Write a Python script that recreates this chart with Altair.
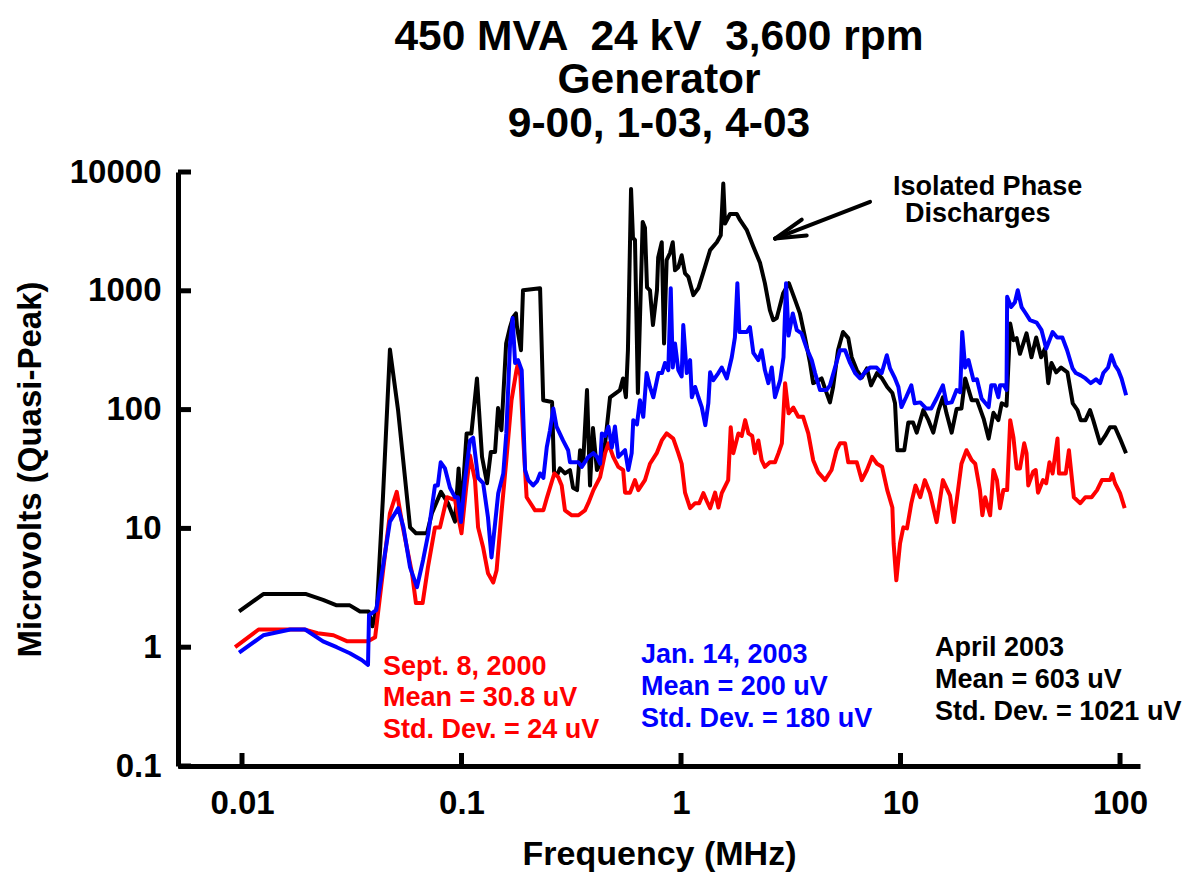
import altair as alt
import pandas as pd

FONT = "Liberation Sans"

# ---------------- data (frequency in MHz, amplitude in microvolts) ----------------
black_f = [0.0097, 0.0125, 0.0196, 0.0234, 0.0270, 0.0310, 0.0345, 0.0378, 0.0393, 0.0412,
           0.0438, 0.0472, 0.0514, 0.0583, 0.0620, 0.0696, 0.0733, 0.0806, 0.0868, 0.0934,
           0.0970, 0.0998, 0.1055, 0.1109, 0.1176, 0.1240, 0.1307, 0.136, 0.1422, 0.1467,
           0.152, 0.1597, 0.1664, 0.1718, 0.1770, 0.179, 0.1866, 0.1906, 0.228, 0.2356,
           0.2585, 0.264, 0.2723, 0.281, 0.296, 0.312, 0.3222, 0.336, 0.347, 0.358,
           0.373, 0.385, 0.397, 0.414, 0.428, 0.451, 0.475, 0.527, 0.544, 0.561,
           0.573, 0.592, 0.604, 0.617, 0.636, 0.669, 0.685, 0.700, 0.722, 0.745,
           0.777, 0.787, 0.817, 0.837, 0.860, 0.891, 0.917, 0.939, 0.972, 1.007,
           1.043, 1.08, 1.138, 1.199, 1.264, 1.357, 1.456, 1.517, 1.558, 1.587,
           1.672, 1.795, 1.859, 1.995, 2.136, 2.29, 2.41, 2.54, 2.63, 2.73,
           2.92, 3.10, 3.31, 3.48, 3.67, 3.87, 4.0, 4.37, 4.53, 4.77,
           4.93, 5.19, 5.47, 5.78, 5.99, 6.32, 6.66, 7.03, 7.34, 7.81,
           8.24, 8.70, 9.18, 9.44, 9.67, 10.4, 10.85, 11.4, 11.85, 12.7,
           13.4, 14.1, 14.9, 15.6, 16.2, 17.1, 18.0, 18.95, 19.7, 21.1,
           22.3, 23.9, 25.2, 26.5, 27.9, 28.9, 30.4, 30.6, 31.6, 32.7,
           33.8, 35.0, 37.5, 39.5, 41.5, 43.7, 45.5, 47.1, 48.7, 51.2,
           53.9, 57.6, 60.9, 64.0, 66.2, 69.6, 73.0, 75.5, 81.1, 85.5,
           90.0, 94.9, 100, 106.5]
black_v = [2.0, 2.8, 2.8, 2.5, 2.25, 2.25, 2.0, 2.0, 1.5, 2.2,
           17.3, 320, 99, 10.2, 9.1, 9.1, 13.4, 20.3, 16.3, 11.4,
           32, 13.4, 63, 63, 183, 40, 24, 44, 44, 103,
           67, 360, 495, 600, 645, 495, 316, 1010, 1050, 120,
           116, 30, 28, 32, 29, 31, 22, 21, 45.5, 35,
           146, 23, 70, 31, 35, 52, 127, 146, 183, 127,
           316, 7200, 2800, 2670, 138, 3800, 3400, 1070, 1010, 515,
           1010, 1910, 2560, 360, 1810, 2080, 2560, 1490, 1580, 1990,
           1400, 1310, 920, 1050, 1430, 2200, 2560, 2930, 8000, 3680,
           4430, 4430, 3930, 3240, 2350, 1720, 1160, 687, 566, 590,
           955, 1160, 834, 645, 405, 247, 167, 183, 150, 115,
           155, 316, 450, 400, 276, 215, 186, 222, 160, 203,
           183, 155, 138, 113, 45.5, 45.5, 78, 78, 64, 99,
           81.5, 64, 99, 127, 93, 64, 101, 102, 183, 120,
           120, 84, 57, 94, 81.5, 113, 108, 138, 530, 384,
           400, 295, 438, 276, 405, 276, 327, 167, 247, 206,
           226, 206, 113, 99, 81.5, 81.5, 99, 81.5, 52, 60,
           71, 71, 57, 43]

red_f = [0.0093, 0.0119, 0.0192, 0.0221, 0.0261, 0.0302, 0.0375, 0.0404, 0.0472, 0.0507,
         0.054, 0.0595, 0.0620, 0.0665, 0.0703, 0.0757, 0.0798, 0.0859, 0.0934, 0.100,
         0.105, 0.1093, 0.1152, 0.119, 0.1255, 0.132, 0.1395, 0.1445, 0.152, 0.160,
         0.169, 0.178, 0.181, 0.1855, 0.191, 0.198, 0.2163, 0.236, 0.2445, 0.2647,
         0.276, 0.286, 0.296, 0.318, 0.341, 0.365, 0.378, 0.399, 0.428, 0.451,
         0.467, 0.491, 0.518, 0.545, 0.556, 0.586, 0.617, 0.639, 0.685, 0.722,
         0.775, 0.817, 0.860, 0.922, 0.972, 1.007, 1.043, 1.10, 1.16, 1.21,
         1.264, 1.31, 1.357, 1.43, 1.48, 1.533, 1.64, 1.684, 1.73, 1.825,
         1.89, 1.96, 2.03, 2.11, 2.17, 2.25, 2.33, 2.41, 2.54, 2.68,
         2.78, 2.88, 2.98, 3.09, 3.25, 3.42, 3.6, 3.80, 4.0, 4.22,
         4.53, 4.85, 5.11, 5.3, 5.59, 5.78, 6.32, 6.66, 7.03, 7.42,
         7.81, 8.24, 8.70, 9.18, 9.3, 9.57, 9.95, 10.3, 10.7, 11.2,
         11.7, 12.3, 12.9, 13.6, 14.6, 15.6, 16.8, 17.5, 18.95, 19.97,
         21.1, 21.9, 23.0, 23.6, 24.3, 25.6, 26.5, 27.5, 28.4, 29.4,
         30.6, 31.6, 32.7, 33.8, 35.0, 36.6, 37.5, 38.2, 40.2, 41.3,
         42.3, 44.6, 46.1, 47.7, 49.3, 51.9, 52.7, 56.6, 58.5, 61.6,
         65.9, 69.5, 74.2, 78.6, 82.7, 90.0, 92.2, 94.9, 100, 105]
red_v = [1.0, 1.41, 1.41, 1.31, 1.26, 1.12, 1.12, 1.21, 13.4, 20.3,
         10.3, 4.2, 2.35, 2.35, 4.7, 10.2, 10.2, 18.3, 17.3, 9.1,
         22, 41, 25.5, 10.2, 6.9, 4.2, 3.5, 4.45, 13.4, 37.5,
         120, 215, 247, 190, 58, 18.3, 14.2, 14.2, 17.9, 29,
         27, 23, 14.2, 12.9, 12.9, 14.2, 16.3, 21, 27, 43,
         52, 40, 33, 31, 20, 20, 25.5, 21, 25.5, 35,
         43, 55, 63, 57, 43, 35, 20, 14.8, 16.3, 16.3,
         19.8, 17, 14.8, 20, 15, 19.8, 25.5, 71, 43, 63,
         60, 81.5, 63, 60, 43, 55, 37.5, 33, 36, 36,
         43, 52, 167, 93, 104, 87, 87, 63, 37.5, 29.6,
         25.5, 31, 45.5, 52, 52, 36, 36, 25.5, 31, 40,
         35, 33, 21, 15, 7.5, 3.66, 7.5, 10.2, 10, 16.3,
         23, 18.3, 25.5, 20, 11.3, 25.5, 19, 11.3, 35, 45.5,
         37.5, 35, 21, 12.9, 18.3, 12.9, 31, 25.5, 14.8, 21,
         21, 81.5, 58, 32, 32, 52, 43, 23, 30, 31,
         20, 25.5, 24, 36, 29, 57, 29, 29, 45.5, 18.3,
         16.3, 18.3, 18.3, 21, 25.5, 25.5, 28.7, 24, 19.8, 14.8]

blue_f = [0.0097, 0.0125, 0.0166, 0.0194, 0.0234, 0.027, 0.031, 0.0351, 0.0375, 0.0379,
          0.0409, 0.0441, 0.0472, 0.0515, 0.0544, 0.0583, 0.0627, 0.0668, 0.0706, 0.0757,
          0.078, 0.0804, 0.0841, 0.0886, 0.0934, 0.0963, 0.0994, 0.1037, 0.1093, 0.113,
          0.119, 0.1255, 0.132, 0.137, 0.1422, 0.147, 0.155, 0.160, 0.1664, 0.171,
          0.1754, 0.181, 0.188, 0.1948, 0.2015, 0.212, 0.221, 0.228, 0.236, 0.2445,
          0.253, 0.262, 0.271, 0.290, 0.306, 0.312, 0.341, 0.353, 0.378, 0.399,
          0.414, 0.428, 0.436, 0.451, 0.467, 0.484, 0.500, 0.518, 0.556, 0.575,
          0.596, 0.606, 0.630, 0.650, 0.673, 0.697, 0.722, 0.748, 0.789, 0.819,
          0.845, 0.875, 0.898, 0.917, 0.939, 0.972, 1.007, 1.024, 1.062, 1.10,
          1.12, 1.16, 1.20, 1.243, 1.29, 1.332, 1.357, 1.404, 1.479, 1.533,
          1.616, 1.703, 1.76, 1.806, 1.844, 1.995, 2.06, 2.136, 2.25, 2.33,
          2.41, 2.50, 2.59, 2.68, 2.83, 2.93, 3.01, 3.09, 3.23, 3.37,
          3.54, 3.74, 3.94, 4.08, 4.30, 4.60, 4.77, 5.03, 5.30, 5.59,
          5.89, 6.21, 6.54, 6.89, 7.26, 7.78, 8.21, 8.66, 8.96, 9.44,
          9.78, 10.1, 10.6, 11.2, 11.6, 12.3, 13.1, 13.8, 14.6, 15.6,
          16.2, 17.1, 18.0, 18.7, 19.1, 19.7, 20.4, 21.5, 22.3, 23.4,
          25.2, 25.9, 26.9, 27.9, 28.4, 29.6, 30.4, 30.6, 31.9, 33.2,
          34.2, 35.6, 36.9, 38.9, 41.7, 43.9, 46.1, 47.7, 49.3, 51.7,
          54.6, 57.4, 60.8, 62.9, 66.2, 69.6, 73.5, 77.7, 81.1, 83.9,
          88.2, 91.3, 94.9, 98.1, 101.6, 106.6]
blue_v = [0.90, 1.26, 1.41, 1.41, 1.12, 1.0, 0.89, 0.78, 0.71, 1.86,
          2.05, 5.1, 11.4, 14.8, 10.2, 4.7, 3.2, 5.4, 9.1, 23,
          23, 36, 32, 22, 18.3, 18.3, 11.3, 25.5, 55, 58,
          26.6, 24, 12.4, 5.7, 11, 19.8, 29, 63, 360, 590,
          247, 261, 215, 31, 25.5, 23, 25, 29, 26.6, 48,
          67, 102, 72, 55, 45.5, 36, 36, 33, 40, 43,
          40, 35, 63, 60, 72, 48, 72, 40, 45.5, 31,
          43, 81.5, 75, 120, 87, 203, 155, 127, 203, 203,
          247, 215, 1050, 226, 360, 215, 190, 515, 203, 261,
          127, 155, 127, 105, 74, 113, 206, 177, 203, 226,
          183, 276, 405, 1160, 450, 450, 495, 300, 261, 316,
          215, 167, 226, 127, 177, 276, 1160, 420, 645, 466,
          438, 327, 261, 203, 146, 146, 160, 226, 316, 316,
          247, 203, 183, 206, 226, 226, 203, 287, 222, 183,
          155, 105, 127, 160, 113, 115, 102, 102, 124, 160,
          113, 115, 146, 140, 450, 226, 261, 177, 180, 124,
          105, 160, 160, 127, 160, 160, 146, 890, 730, 800,
          1010, 730, 660, 566, 540, 466, 327, 384, 450, 405,
          405, 316, 222, 203, 194, 183, 167, 180, 167, 203,
          226, 287, 236, 215, 183, 132]

x_ticks = [0.01, 0.1, 1, 10, 100]
y_ticks = [0.1, 1, 10, 100, 1000, 10000]

title_lines = ["450 MVA \u00a024 kV \u00a03,600 rpm", "Generator", "9-00, 1-03, 4-03"]

ann_text = ["Sept. 8, 2000", "Mean = 30.8 uV", "Std. Dev. = 24 uV",
            "Jan. 14, 2003", "Mean = 200 uV", "Std. Dev. = 180 uV",
            "April 2003", "Mean = 603 uV", "Std. Dev. = 1021 uV",
            "Isolated Phase", "Discharges"]
ann_f = [0.0439, 0.0439, 0.0439, 0.657, 0.657, 0.657, 14.36, 14.36, 14.36, 9.25, 10.48]
ann_v = [0.683, 0.372, 0.200, 0.856, 0.4605, 0.2477, 0.981, 0.528, 0.284, 7500, 4450]
ann_color = ["#ff0000"] * 3 + ["#0000ff"] * 3 + ["#000000"] * 5
ann_size = [27] * 9 + [27, 27]

# arrow segments: shaft and two head strokes (start -> end)
arrow_f1 = [7.263, 2.682, 2.682]
arrow_v1 = [5612, 2751, 2751]
arrow_f2 = [2.682, 3.548, 3.738]
arrow_v2 = [2751, 3975, 2925]

# ---------------- chart ----------------
W, H = 962, 594
xs = alt.Scale(type="log", domain=[0.00511, 123.3])
ys = alt.Scale(type="log", domain=[0.1, 10000])


def frame(f, v):
    assert len(f) == len(v)
    return pd.DataFrame({"f": f, "v": v})


x_axis = alt.Axis(values=x_ticks, format="~g", title="Frequency (MHz)", ticks=False, tickSize=0,
                  labelPadding=21, labelFontSize=33, labelFont=FONT, labelFontWeight="bold",
                  labelColor="black", labelFlush=False, labelOverlap=False,
                  domainWidth=5, domainColor="black", grid=False,
                  titleFontSize=34, titleFont=FONT, titleFontWeight="bold", titleColor="black",
                  titleX=W / 2, titleY=88, titleAlign="center", titleBaseline="middle")
y_axis = alt.Axis(values=y_ticks, format="~g", title="Microvolts (Quasi-Peak)", ticks=False, tickSize=0,
                  labelPadding=17, labelFontSize=33, labelFont=FONT, labelFontWeight="bold",
                  labelColor="black", labelFlush=False, labelOverlap=False,
                  domainWidth=5, domainColor="black", grid=False,
                  titleFontSize=33, titleFont=FONT, titleFontWeight="bold", titleColor="black",
                  titleX=-148, titleY=H / 2, titleAngle=-90, titleAlign="center", titleBaseline="middle")


def line(f, v, color, with_axes=False):
    if with_axes:
        xe = alt.X("f:Q", scale=xs, axis=x_axis)
        ye = alt.Y("v:Q", scale=ys, axis=y_axis)
    else:
        xe = alt.X("f:Q", scale=xs)
        ye = alt.Y("v:Q", scale=ys)
    return alt.Chart(frame(f, v)).mark_line(color=color, strokeWidth=4, strokeJoin="round").encode(x=xe, y=ye)


black = line(black_f, black_v, "#000000", with_axes=True)
red = line(red_f, red_v, "#ff0000")
blue = line(blue_f, blue_v, "#0000ff")

ytick = alt.Chart(pd.DataFrame({"v": y_ticks})).mark_rule(color="black", strokeWidth=5).encode(
    y=alt.Y("v:Q", scale=ys), x=alt.value(0), x2=alt.value(13))
xtick = alt.Chart(pd.DataFrame({"f": x_ticks})).mark_rule(color="black", strokeWidth=5).encode(
    x=alt.X("f:Q", scale=xs), y=alt.value(H), y2=alt.value(H - 13))

ann_df = pd.DataFrame({"t": ann_text, "f": ann_f, "v": ann_v, "c": ann_color, "z": ann_size})
notes = alt.Chart(ann_df).mark_text(align="left", baseline="middle", font=FONT, fontWeight="bold").encode(
    x=alt.X("f:Q", scale=xs),
    y=alt.Y("v:Q", scale=ys),
    text="t:N",
    color=alt.Color("c:N", scale=None),
    size=alt.Size("z:Q", scale=None),
)

arrow_df = pd.DataFrame({"f": arrow_f1, "v": arrow_v1, "f2": arrow_f2, "v2": arrow_v2})
arrow = alt.Chart(arrow_df).mark_rule(color="black", strokeWidth=4, strokeCap="round").encode(
    x=alt.X("f:Q", scale=xs), y=alt.Y("v:Q", scale=ys),
    x2="f2:Q", y2="v2:Q")

chart = alt.layer(black, red, blue, ytick, xtick, notes, arrow).properties(
    width=W, height=H,
    title=alt.TitleParams(text=title_lines, fontSize=42.5, font=FONT, fontWeight="bold",
                          color="black", anchor="middle", lineHeight=43.5, offset=11),
    autosize=alt.AutoSizeParams(type="none"),
    padding={"left": 170, "top": 164, "right": 48, "bottom": 110},
).configure_view(stroke=None)

chart.save("out.html", embed_options={"renderer": "svg", "actions": False})
